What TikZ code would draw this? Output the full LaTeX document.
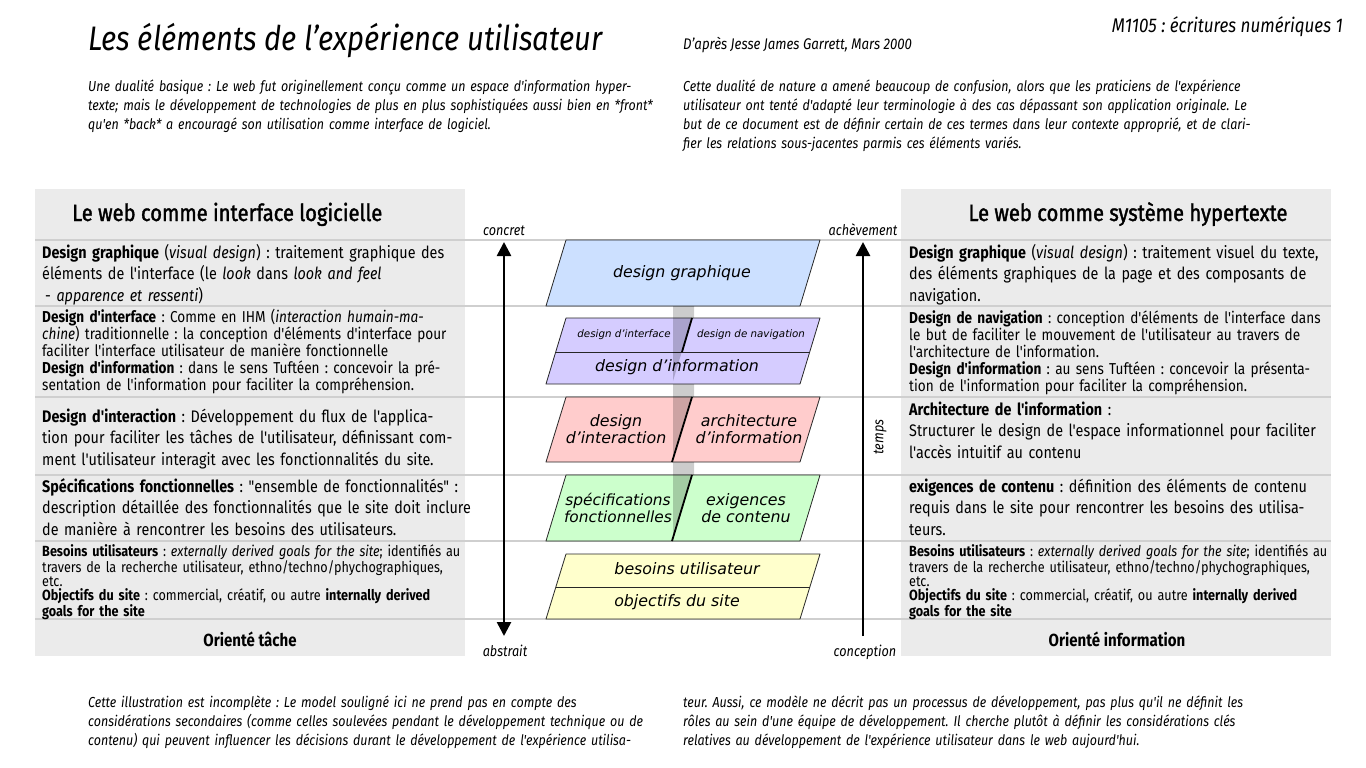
\documentclass[tikz,border=0pt]{standalone}
\usepackage{fontspec}
\usetikzlibrary{arrows.meta}
\newfontfamily\fira{Fira Sans}[FakeStretch=0.86]
\newfontfamily\firahead{Fira Sans}[FakeStretch=0.86, FakeBold=1.5]
\newfontfamily\deja{DejaVu Sans}
\newcommand\fsz[2]{\fontsize{#1}{#2}\selectfont}
\definecolor{panelgray}{HTML}{EBEBEB}
\definecolor{rulegray}{HTML}{CFCFCF}
\definecolor{gfxblue}{HTML}{CCE0FF}
\definecolor{navlilac}{HTML}{D5CCFF}
\definecolor{intred}{HTML}{FFCCCC}
\definecolor{fncgreen}{HTML}{CCFFCC}
\definecolor{needyellow}{HTML}{FFFFCC}
\frenchspacing
\begin{document}
\begin{tikzpicture}[x=1pt, y=-1pt, line join=round, >={Triangle[width=14pt, length=14pt]},
  txt/.style={anchor=base west, inner sep=0pt, text width=#1, align=left},
  txt/.default=440pt,
  big/.style={font=\fira\fsz{16.7}{21.5}},
  tight/.style={font=\fira\fsz{15.8}{17}},
  small/.style={font=\fira\fsz{14.7}{14}},
  intro/.style={font=\fira\itshape\fsz{14.5}{19}},
  lbl/.style={font=\fira\itshape\fsz{14.7}{15}, anchor=base, inner sep=0pt},
  layer/.style={draw=black!85, line width=0.8pt},
  split/.style={draw=black, line width=1.8pt},
  laytext/.style={font=\deja\itshape\fsz{15.8}{17}, align=center, inner sep=0pt},
  axis/.style={line width=2.6pt}]
\useasboundingbox (0,0) rectangle (1366,768);

% head of the page
\node[anchor=base west, inner sep=0pt, font=\fira\itshape\fsz{34}{38}] (title) at (88,51) {Les éléments de l’expérience utilisateur};
\node[anchor=base west, inner sep=0pt, font=\fira\itshape\fsz{15.4}{17}] (source) at (683,50) {D’après Jesse James Garrett, Mars 2000};
\node[anchor=base east, inner sep=0pt, font=\fira\itshape\fsz{19.8}{22}] (course) at (1343,33) {M1105 : écritures numériques 1};
\node[txt=600pt, intro] (introL) at (88,92) {Une dualité basique : Le web fut originellement conçu comme un espace d'information hyper-\\ texte; mais le développement de technologies de plus en plus sophistiquées aussi bien en *front*\\ qu'en *back* a encouragé son utilisation comme interface de logiciel.};
\node[txt=600pt, intro] (introR) at (683,92) {Cette dualité de nature a amené beaucoup de confusion, alors que les praticiens de l'expérience\\ utilisateur ont tenté d'adapté leur terminologie à des cas dépassant son application originale. Le\\ but de ce document est de définir certain de ces termes dans leur contexte approprié, et de clari-\\ fier les relations sous-jacentes parmis ces éléments variés.};

% the two columns
\fill[panelgray] (35,189) rectangle (465,656);
\fill[panelgray] (901,189) rectangle (1331,656);
\foreach \y in {240,306,397,475,541,619}
  \draw[rulegray, line width=1.3pt] (35,\y) -- (1331,\y);

\node[anchor=base west, inner sep=0pt, font=\firahead\fsz{23.5}{26}] (headL) at (72,221) {Le web comme interface logicielle};
\node[anchor=base, inner sep=0pt, font=\firahead\fsz{23.5}{26}] (headR) at (1128,221) {Le web comme système hypertexte};

\node[txt, big] (gfxL) at (42,258) {\textbf{Design graphique} (\textit{visual design}) : traitement graphique des\\ éléments de l'interface (le \textit{look} dans \textit{look and feel}\\ \hspace{3pt}- \textit{apparence et ressenti})};
\node[txt, tight] (navL) at (42,322) {\textbf{Design d'interface} : Comme en IHM (\textit{interaction humain-ma-}\\ \textit{chine}) traditionnelle : la conception d'éléments d'interface pour\\ faciliter l'interface utilisateur de manière fonctionnelle\\ \textbf{Design d'information} : dans le sens Tuftéen : concevoir la pré-\\ sentation de l'information pour faciliter la compréhension.};
\node[txt, big] (intL) at (42,422) {\textbf{Design d'interaction} : Développement du flux de l'applica-\\ tion pour faciliter les tâches de l'utilisateur, définissant com-\\ ment l'utilisateur interagit avec les fonctionnalités du site.};
\node[txt, big] (fncL) at (42,492) {\textbf{Spécifications fonctionnelles} : "ensemble de fonctionnalités" :\\ description détaillée des fonctionnalités que le site doit inclure\\ de manière à rencontrer les besoins des utilisateurs.};
\node[txt, small] (needL) at (42,556) {\textbf{Besoins utilisateurs} : \textit{externally derived goals for the site}; identifiés au\\ travers de la recherche utilisateur, ethno/techno/phychographiques,\\ etc.\\ \textbf{Objectifs du site} : commercial, créatif, ou autre \textbf{internally derived}\\ \textbf{goals for the site}};
\node[anchor=base, inner sep=0pt, font=\fira\bfseries\fsz{17.5}{18}] (footL) at (250,646) {Orienté tâche};

\node[txt, big] (gfxR) at (909,258) {\textbf{Design graphique} (\textit{visual design}) : traitement visuel du texte,\\ des éléments graphiques de la page et des composants de\\ navigation.};
\node[txt, tight] (navR) at (909,323) {\textbf{Design de navigation} : conception d'éléments de l'interface dans\\ le but de faciliter le mouvement de l'utilisateur au travers de\\ l'architecture de l'information.\\ \textbf{Design d'information} : au sens Tuftéen : concevoir la présenta-\\ tion de l'information pour faciliter la compréhension.};
\node[txt, big] (intR) at (909,415) {\textbf{Architecture de l'information} :\\ Structurer le design de l'espace informationnel pour faciliter\\ l'accès intuitif au contenu};
\node[txt, big] (fncR) at (909,492) {\textbf{exigences de contenu} : définition des éléments de contenu\\ requis dans le site pour rencontrer les besoins des utilisa-\\ teurs.};
\node[txt, small] (needR) at (909,556) {\textbf{Besoins utilisateurs} : \textit{externally derived goals for the site}; identifiés au\\ travers de la recherche utilisateur, ethno/techno/phychographiques,\\ etc.\\ \textbf{Objectifs du site} : commercial, créatif, ou autre \textbf{internally derived}\\ \textbf{goals for the site}};
\node[anchor=base, inner sep=0pt, font=\fira\bfseries\fsz{17.5}{18}] (footR) at (1117,646) {Orienté information};

% the layers
\filldraw[layer, fill=gfxblue] (546,306) -- (566,240) -- (820,240) -- (800,306) -- cycle;
\filldraw[layer, fill=navlilac] (546,384) -- (566,318) -- (820,318) -- (800,384) -- cycle;
\draw[layer] (556,352) -- (810,352);
\filldraw[layer, fill=intred] (546,462) -- (566,397) -- (820,397) -- (800,462) -- cycle;
\filldraw[layer, fill=fncgreen] (546,541) -- (566,475) -- (820,475) -- (800,541) -- cycle;
\filldraw[layer, fill=needyellow] (546,619) -- (566,554) -- (820,554) -- (800,619) -- cycle;
\draw[layer] (556,587) -- (810,587);
% gray link between the layers
\fill[black, opacity=0.2] (673,306) rectangle (694,318) (673,384) rectangle (694,397)
  (673,462) rectangle (694,475)
  (673,318) -- (692,318) -- (673,381) -- cycle
  (673,397) -- (692,397) -- (673,460) -- cycle
  (673,475) -- (692,475) -- (673,538) -- cycle;
\draw[split] (692,318) -- (682,352);
\draw[split] (692,397) -- (672,462);
\draw[split] (692,475) -- (672,541);

\node[laytext] (gfx) at (682,273) {design graphique};
\node[laytext, font=\deja\itshape\fsz{10.3}{12}] (iface) at (624,335) {design d’interface};
\node[laytext, font=\deja\itshape\fsz{10.3}{12}] (nav) at (751,335) {design de navigation};
\node[laytext] (info) at (677,367) {design d’information};
\node[laytext] (inter) at (616,429) {design\\ d’interaction};
\node[laytext] (archi) at (749,429) {architecture\\ d’information};
\node[laytext, font=\deja\itshape\fsz{15.4}{17}] (specs) at (618,508) {spécifications\\ fonctionnelles};
\node[laytext] (content) at (746,508) {exigences\\ de contenu};
\node[laytext] (needs) at (687,569) {besoins utilisateur};
\node[laytext] (goals) at (677,602) {objectifs du site};

% axes
\node[lbl] (concret) at (504,235) {concret};
\node[lbl] (abstrait) at (505,656) {abstrait};
\node[lbl] (acheve) at (863,235) {achèvement};
\node[lbl] (concep) at (865,656) {conception};
\node[lbl, rotate=90, anchor=center] (temps) at (880,437) {temps};
\coordinate (topL) at (504,242);
\coordinate (botL) at (504,636);
\coordinate (topR) at (863,242);
\coordinate (botR) at (863,636);
\draw[axis, <->] (botL) -- (topL);
\draw[axis, ->] (botR) -- (topR);

% foot of the page
\node[txt=600pt, intro] (footnoteL) at (88,707) {Cette illustration est incomplète : Le model souligné ici ne prend pas en compte des\\ considérations secondaires (comme celles soulevées pendant le développement technique ou de\\ contenu) qui peuvent influencer les décisions durant le développement de l'expérience utilisa-};
\node[txt=600pt, intro] (footnoteR) at (683,707) {teur. Aussi, ce modèle ne décrit pas un processus de développement, pas plus qu'il ne définit les\\ rôles au sein d'une équipe de développement. Il cherche plutôt à définir les considérations clés\\ relatives au développement de l'expérience utilisateur dans le web aujourd'hui.};
\end{tikzpicture}
\end{document}
